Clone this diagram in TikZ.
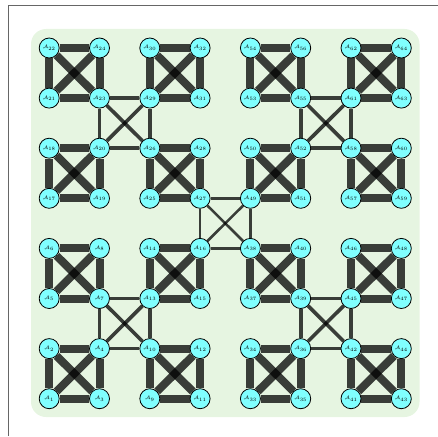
\documentclass[tikz,border=0pt]{standalone}
\usepackage{amsmath,amssymb}
\usepackage{tikz}
\definecolor{paleleaf}{RGB}{230,245,225}
\definecolor{nodecyan}{RGB}{128,255,255}
\pgfdeclarelayer{back}
\pgfdeclarelayer{links}
\pgfsetlayers{back,links,main}
\tikzset{
  proc/.style={circle,draw=black,line width=.8pt,fill=nodecyan,minimum size=20pt,inner sep=0pt,font=\tiny},
  lvlone/.style={line width=8pt,black,opacity=.75},
  lvltwo/.style={line width=3.6pt,black,opacity=.75},
  lvlthree/.style={line width=2.6pt,black,opacity=.75}
}
% all six links among the 2x2 block whose lower left node is (v#1#2)
\newcommand{\fourclique}[3]{%
  \pgfmathtruncatemacro{\ii}{#1+1}\pgfmathtruncatemacro{\jj}{#2+1}%
  \draw[#3] (v#1#2) -- (v\ii#2);
  \draw[#3] (v#1\jj) -- (v\ii\jj);
  \draw[#3] (v#1#2) -- (v#1\jj);
  \draw[#3] (v\ii#2) -- (v\ii\jj);
  \draw[#3] (v#1#2) -- (v\ii\jj);
  \draw[#3] (v\ii#2) -- (v#1\jj);
}
\begin{document}
\begin{tikzpicture}[x=1pt,y=-1pt]
\useasboundingbox (0,0) rectangle (438,436);
\draw[black!60,line width=1pt] (8,436) -- (8,6) -- (438,6);
\begin{pgfonlayer}{back}
\fill[paleleaf,rounded corners=15pt] (31,29) rectangle (419.5,417);
\end{pgfonlayer}
% processors, numbered level by level (bottom left, top left, bottom right, top right)
\foreach \i in {0,...,7}{
  \foreach \j in {0,...,7}{
    \pgfmathtruncatemacro{\lab}{1+16*(2*int(\i/4)+int(\j/4))+4*(2*mod(int(\i/2),2)+mod(int(\j/2),2))+2*mod(\i,2)+mod(\j,2)}
    \node[proc] (v\i\j) at ({49.2+50.3*\i},{398.7-50.1*\j}) {$\mathcal{A}_{\lab}$};
  }
}
\begin{pgfonlayer}{links}
\foreach \gi in {0,...,3}{
  \foreach \gj in {0,...,3}{
    \pgfmathtruncatemacro{\ci}{2*\gi}\pgfmathtruncatemacro{\cj}{2*\gj}
    \fourclique{\ci}{\cj}{lvlone}
  }
}
\foreach \qi in {0,1}{
  \foreach \qj in {0,1}{
    \pgfmathtruncatemacro{\ci}{4*\qi+1}\pgfmathtruncatemacro{\cj}{4*\qj+1}
    \fourclique{\ci}{\cj}{lvltwo}
  }
}
\fourclique{3}{3}{lvlthree}
\end{pgfonlayer}
\end{tikzpicture}
\end{document}
